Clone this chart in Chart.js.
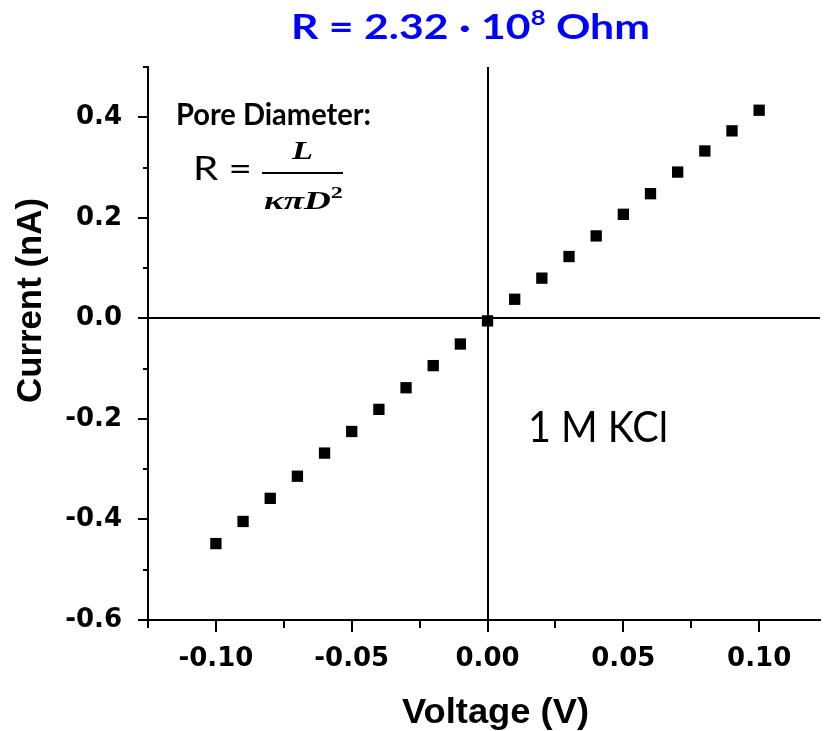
<!DOCTYPE html>
<html>
<head>
<meta charset="utf-8">
<script src="https://cdn.jsdelivr.net/npm/chart.js@4.4.1/dist/chart.umd.min.js"></script>
<style>
  html, body { margin: 0; padding: 0; background: #ffffff; }
  #wrap { width: 828px; height: 731px; }
</style>
</head>
<body>
<div id="wrap"><canvas id="iv" width="828" height="731"></canvas></div>
<script>
// I-V sweep of the nanopore in 1 M KCl
const voltage = [-0.10, -0.09, -0.08, -0.07, -0.06, -0.05, -0.04, -0.03, -0.02, -0.01,
                 0.00, 0.01, 0.02, 0.03, 0.04, 0.05, 0.06, 0.07, 0.08, 0.09, 0.10];
const current = [-0.448, -0.404, -0.358, -0.314, -0.268, -0.225, -0.181, -0.138, -0.094, -0.051,
                 -0.005, 0.038, 0.080, 0.123, 0.164, 0.207, 0.248, 0.291, 0.333, 0.373, 0.414];

const xTickLabels = ['-0.10', '-0.05', '0.00', '0.05', '0.10'];
const yTickLabels = ['-0.6', '-0.4', '-0.2', '0.0', '0.2', '0.4'];

const titleText = ['R = 2.32 · 10', '8', ' Ohm'];
const xTitle = 'Voltage (V)';
const yTitle = 'Current (nA)';
const noteHeading = 'Pore Diameter:';
const noteSolution = '1 M KCl';

const points = voltage.map((v, i) => ({ x: v, y: current[i] }));

function fmt(v, digits) {
  const r = Number(v.toFixed(digits));
  return (Math.abs(r) < 1e-9 ? 0 : r).toFixed(digits);
}

// draws a run of text pieces, optionally squeezed/stretched to a given width
function drawRuns(ctx, runs, x, base, targetW, color) {
  let total = 0;
  runs.forEach(r => { ctx.font = r.font; r.w = ctx.measureText(r.text).width; total += r.w; });
  const sx = targetW ? targetW / total : 1;
  ctx.save();
  ctx.translate(x, base);
  ctx.scale(sx, 1);
  ctx.fillStyle = color || '#000';
  ctx.textAlign = 'left';
  ctx.textBaseline = 'alphabetic';
  let cx = 0;
  runs.forEach(r => { ctx.font = r.font; ctx.fillText(r.text, cx, r.dy || 0); cx += r.w; });
  ctx.restore();
}

const decorations = {
  id: 'decorations',
  beforeDatasetsDraw(chart) {
    const { ctx, chartArea: a, scales: { x, y } } = chart;
    const x0 = Math.round(x.getPixelForValue(0));
    const y0 = Math.round(y.getPixelForValue(0));
    ctx.save();
    ctx.strokeStyle = '#000';
    ctx.lineWidth = 2;
    ctx.beginPath();
    ctx.moveTo(a.left, y0); ctx.lineTo(a.right, y0);
    ctx.moveTo(x0, a.top); ctx.lineTo(x0, a.bottom);
    ctx.stroke();
    ctx.restore();
  },
  afterDraw(chart) {
    const { ctx, chartArea: a, scales: { x, y } } = chart;
    ctx.save();
    ctx.strokeStyle = '#000';
    ctx.lineWidth = 2;
    ctx.beginPath();
    // outward tick marks: long at labelled values, short in between
    x.ticks.forEach(t => {
      const k = Math.round(t.value / 0.025);
      if (Math.abs(t.value - k * 0.025) > 1e-9) return;
      const len = k % 2 === 0 ? 12 : 8;
      const px = Math.round(x.getPixelForValue(t.value));
      ctx.moveTo(px, a.bottom); ctx.lineTo(px, a.bottom + len);
    });
    y.ticks.forEach(t => {
      const k = Math.round(t.value / 0.1);
      if (Math.abs(t.value - k * 0.1) > 1e-9) return;
      const len = k % 2 === 0 ? 10 : 5;
      const py = Math.round(y.getPixelForValue(t.value));
      ctx.moveTo(a.left - len, py); ctx.lineTo(a.left, py);
    });
    ctx.stroke();

    // chart title
    drawRuns(ctx, [
      { text: titleText[0], font: 'bold 35px Lato' },
      { text: titleText[1], font: 'bold 21px Lato', dy: -14 },
      { text: titleText[2], font: 'bold 35px Lato' }
    ], 291, 39, 359, '#0000ff');

    // pore diameter relation
    drawRuns(ctx, [{ text: noteHeading, font: 'bold 30px Lato' }], 176, 125, 195);
    drawRuns(ctx, [{ text: 'R =', font: '32px Lato' }], 193, 180, 59);
    ctx.beginPath();
    ctx.moveTo(262, 173); ctx.lineTo(343, 173);
    ctx.stroke();
    drawRuns(ctx, [{ text: 'L', font: 'italic bold 26px "Liberation Serif"' }], 292, 159, 21);
    drawRuns(ctx, [
      { text: 'κπD', font: 'italic bold 26px "Liberation Serif"' },
      { text: '2', font: 'bold 17px "Liberation Serif"', dy: -11 }
    ], 264, 209, 79);

    // electrolyte label
    drawRuns(ctx, [{ text: noteSolution, font: '42px Lato' }], 528, 442, 140);

    // axis titles
    drawRuns(ctx, [{ text: xTitle, font: 'bold 35px "Liberation Sans"' }], 402, 723, 187);
    ctx.save();
    ctx.translate(41, 403);
    ctx.rotate(-Math.PI / 2);
    drawRuns(ctx, [{ text: yTitle, font: 'bold 35px "Liberation Sans"' }], 0, 0, 205);
    ctx.restore();
    ctx.restore();
  }
};

new Chart(document.getElementById('iv'), {
  type: 'scatter',
  data: {
    datasets: [{
      data: points,
      pointStyle: 'rect',
      pointRadius: 8,
      pointHoverRadius: 8,
      pointBorderWidth: 0,
      backgroundColor: '#000',
      borderColor: '#000',
      showLine: false,
      clip: false
    }]
  },
  options: {
    responsive: false,
    animation: false,
    devicePixelRatio: 1,
    layout: { padding: { top: 67, right: 0, left: 0, bottom: 0 } },
    plugins: { legend: { display: false }, tooltip: { enabled: false }, title: { display: false } },
    scales: {
      x: {
        type: 'linear',
        min: -0.125,
        max: 0.1224,
        afterFit: s => { s.height = 111; },
        grid: { display: false },
        border: { display: true, color: '#000', width: 2 },
        ticks: {
          stepSize: 0.025,
          includeBounds: false,
          autoSkip: false,
          maxRotation: 0,
          padding: 16,
          color: '#000',
          font: { family: '"DejaVu Sans"', weight: 'bold', size: 26 },
          callback: v => { const s = fmt(v, 2); return xTickLabels.includes(s) && Math.abs(v * 20 - Math.round(v * 20)) < 1e-6 ? s : ''; }
        }
      },
      y: {
        type: 'linear',
        min: -0.6,
        max: 0.5,
        afterFit: s => { s.width = 148; },
        grid: { display: false },
        border: { display: true, color: '#000', width: 2 },
        ticks: {
          stepSize: 0.1,
          autoSkip: false,
          padding: 18,
          color: '#000',
          font: { family: '"DejaVu Sans"', weight: 'bold', size: 26 },
          callback: v => { const s = fmt(v, 1); return yTickLabels.includes(s) && Math.abs(v * 5 - Math.round(v * 5)) < 1e-6 ? s : ''; }
        }
      }
    }
  },
  plugins: [decorations]
});
</script>
</body>
</html>
